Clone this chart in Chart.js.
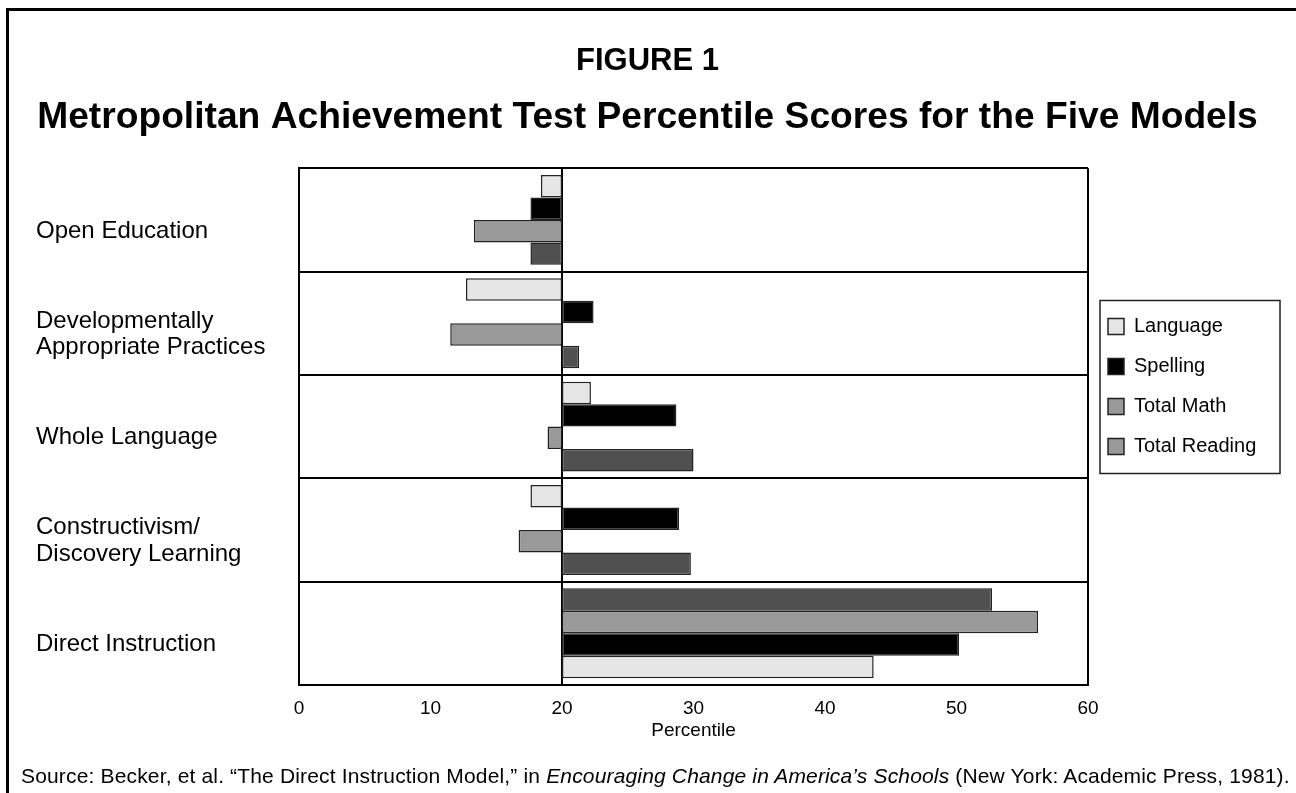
<!DOCTYPE html>
<html>
<head>
<meta charset="utf-8">
<title>Figure 1</title>
<style>
  html, body { margin: 0; padding: 0; background: #fff; overflow: hidden; }
  body { width: 1296px; height: 793px; position: relative; font-family: "Liberation Sans", Arial, sans-serif; }
  #frame { position: absolute; left: 6px; top: 8px; width: 1400px; height: 900px; border: 3px solid #000; }
  #myChart { position: absolute; left: 0; top: 0; }
  #source { position: absolute; left: 21px; top: 764px; font-size: 21px; line-height: 24px; letter-spacing: 0.16px; white-space: nowrap; color: #000; }
</style>
</head>
<body>
<div id="frame"></div>
<canvas id="myChart" width="1296" height="793"></canvas>
<div id="source">Source: Becker, et al. “The Direct Instruction Model,” in <i>Encouraging Change in America’s Schools</i> (New York: Academic Press, 1981).</div>
<script src="https://cdn.jsdelivr.net/npm/chart.js@4.4.1/dist/chart.umd.min.js"></script>
<script>
  const categories = ['Open Education', ['Developmentally', 'Appropriate Practices'], 'Whole Language', ['Constructivism/', 'Discovery Learning'], 'Direct Instruction']
  const seriesNames = ['Language', 'Spelling', 'Total Math', 'Total Reading']
  const language = [18.4, 12.7, 22.2, 17.6, 43.7]
  const spelling = [17.6, 22.4, 28.7, 28.9, 50.2]
  const totalMath = [13.3, 11.5, 18.9, 16.7, 56.2]
  const totalReading = [17.6, 21.3, 30.0, 29.8, 52.7]
  const xTicks = [0, 10, 20, 30, 40, 50, 60]
  const baseline = 20
  // in the original the Direct Instruction group is stacked the other way round
  const flipped = [false, false, false, false, true]

  const fills = ['#e6e6e6', '#000000', '#999999', '#505050']
  const series = [language, spelling, totalMath, totalReading]

  function bars(values, useFlipped) {
    return values.map((v, i) => flipped[i] === useFlipped ? [baseline, v] : null)
  }

  let datasets = []
  series.forEach((vals, k) => datasets.push({ label: seriesNames[k], data: bars(vals, false), backgroundColor: fills[k] }))
  ;[3, 2, 1, 0].forEach(k => datasets.push({ label: seriesNames[k], data: bars(series[k], true), backgroundColor: fills[k] }))
  datasets.forEach(d => {
    d.borderColor = '#222'
    d.borderWidth = 1.5
    d.borderSkipped = false
    d.skipNull = true
    d.categoryPercentage = 0.87
    d.barPercentage = 1
  })

  // box round the legend
  const legendFrame = {
    id: 'legendFrame',
    afterDraw(chart) {
      const boxes = chart.legend.legendHitBoxes
      if (!boxes || !boxes.length) return
      const first = boxes[0], last = boxes[boxes.length - 1]
      const left = first.left - 8
      const top = first.top + first.height / 2 - 26
      const bottom = last.top + last.height / 2 + 27
      const ctx = chart.ctx
      ctx.save()
      ctx.strokeStyle = '#222'
      ctx.lineWidth = 1.5
      ctx.strokeRect(left, top, 180, bottom - top)
      ctx.restore()
    }
  }

  Chart.defaults.font.family = "'Liberation Sans', Arial, sans-serif"
  Chart.defaults.color = '#000'

  let carte = document.getElementById('myChart')
  let graph = new Chart(carte, {
    type: 'bar',
    data: { labels: categories, datasets: datasets },
    plugins: [legendFrame],
    options: {
      indexAxis: 'y',
      responsive: false,
      animation: false,
      layout: { padding: { top: 30.4, bottom: 50.4, left: 36, right: 37 } },
      scales: {
        x: {
          min: 0,
          max: 60,
          afterBuildTicks: s => { s.ticks = xTicks.map(v => ({ value: v })) },
          grid: {
            color: c => [0, 20, 60].includes(c.tick && c.tick.value) ? '#000' : 'rgba(0,0,0,0)',
            lineWidth: 2,
            drawTicks: false
          },
          border: { color: '#000', width: 2 },
          ticks: { color: '#000', font: { size: 19 }, padding: 12 },
          title: { display: true, text: 'Percentile', color: '#000', font: { size: 19 }, padding: { top: -12, bottom: 0 } }
        },
        y: {
          grid: { color: '#000', lineWidth: 2, drawTicks: false, offset: true },
          border: { color: '#000', width: 2 },
          ticks: { color: '#000', crossAlign: 'far', labelOffset: 11, padding: 0, font: { size: 24, lineHeight: 1.1 } },
          afterFit: s => { s.width = 263 }
        }
      },
      plugins: {
        title: { display: true, text: 'FIGURE 1', color: '#000', font: { size: 31, weight: 'bold' }, padding: { top: 12, bottom: 0 } },
        subtitle: { display: true, text: 'Metropolitan Achievement Test Percentile Scores for the Five Models', color: '#000', font: { size: 37.2, weight: 'bold' }, padding: { top: 16, bottom: 28 } },
        legend: {
          position: 'right',
          align: 'center',
          maxWidth: 171,
          labels: {
            color: '#000',
            font: { size: 20 },
            boxWidth: 16,
            boxHeight: 16,
            padding: 20,
            filter: item => item.datasetIndex < 4,
            generateLabels: chart => {
              const items = Chart.defaults.plugins.legend.labels.generateLabels(chart)
              items.forEach(it => {
                it.strokeStyle = '#222'
                it.lineWidth = 1.5
                // the reading swatch is printed lighter than its bars
                if (it.text === 'Total Reading') it.fillStyle = '#999999'
              })
              return items
            }
          }
        },
        tooltip: { enabled: false }
      }
    }
  })
</script>
</body>
</html>
